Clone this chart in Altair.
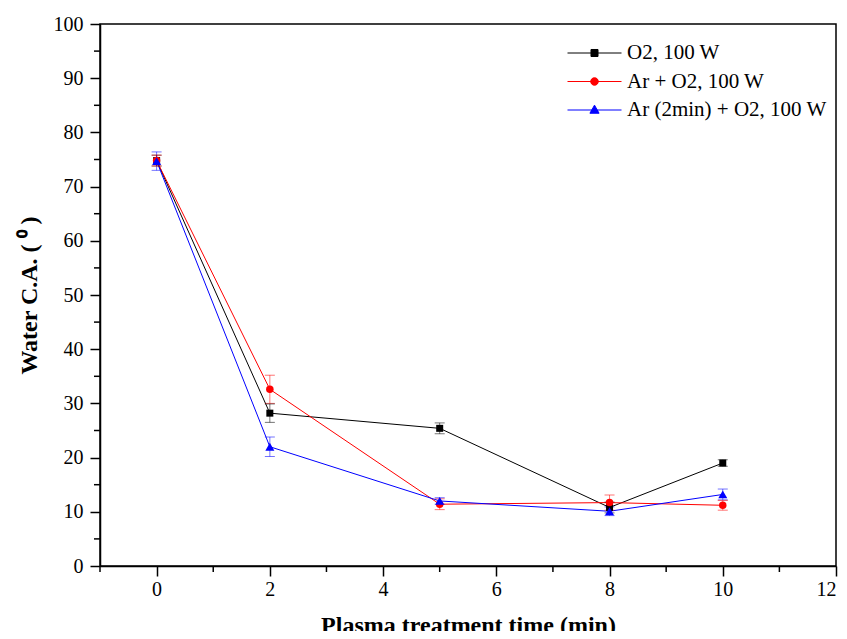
import altair as alt
import pandas as pd

# ---- data ----
times = [0, 2, 5, 8, 10]
series_names = ["O2, 100 W", "Ar + O2, 100 W", "Ar (2min) + O2, 100 W"]
o2 = [74.8, 28.2, 25.4, 10.8, 19.0]
o2_err = [1.0, 1.7, 1.0, 1.0, 0.6]
ar_o2 = [74.8, 32.6, 11.4, 11.7, 11.2]
ar_o2_err = [1.0, 2.6, 1.0, 1.4, 0.9]
ar2_o2 = [74.7, 22.0, 12.0, 10.1, 13.2]
ar2_o2_err = [1.7, 1.8, 0.6, 0.8, 1.0]
colors = ["#000000", "#ff0000", "#0000ff"]
point_shapes = ["square", "circle", "triangle-up"]
point_sizes = [49, 56, 81]
x_ticks = [0, 2, 4, 6, 8, 10, 12]
x_minor = [-1, 1, 3, 5, 7, 9, 11]
y_ticks = [0, 10, 20, 30, 40, 50, 60, 70, 80, 90, 100]
y_minor = [5, 15, 25, 35, 45, 55, 65, 75, 85, 95]

# legend symbols: a line with the marker in its centre
legend_paths = [
    "M-1,0H1M-0.13,-0.13H0.13V0.13H-0.13Z",
    "M-1,0H1M-0.14,0A0.14,0.14,0,1,0,0.14,0A0.14,0.14,0,1,0,-0.14,0Z",
    "M-1,0H1M0,-0.18L0.17,0.12H-0.17Z",
]

rows = []
for name, vals, errs in zip(series_names, [o2, ar_o2, ar2_o2], [o2_err, ar_o2_err, ar2_o2_err]):
    for t, v, e in zip(times, vals, errs):
        rows.append({"time": t, "ca": v, "lo": v - e, "hi": v + e, "series": name})
df = pd.DataFrame(rows)

W, H = 736, 542
FONT = "Liberation Serif"
X_TITLE = "Plasma treatment time (min)"
Y_TITLE = "Water C.A. ( \u2070 )"

x_scale = alt.Scale(domain=[-1, 12], nice=False, zero=False)
y_scale = alt.Scale(domain=[0, 100], nice=False)
# same mapping, listed in reverse so this (legend-less) scale is not merged with the legend scales
color_scale = alt.Scale(domain=series_names[::-1], range=colors[::-1])

x_axis = alt.Axis(values=x_ticks, format="d", labelPadding=3, titlePadding=14)
y_axis = alt.Axis(values=y_ticks, format="d", labelPadding=7, titlePadding=12)


def xenc(field="time"):
    return alt.X(f"{field}:Q", scale=x_scale, axis=x_axis, title=X_TITLE)


def yenc(field="ca"):
    return alt.Y(f"{field}:Q", scale=y_scale, axis=y_axis, title=Y_TITLE)


col = alt.Color("series:N", scale=color_scale, legend=None)
base = alt.Chart(df)

lines = base.mark_line(strokeWidth=1).encode(x=xenc(), y=yenc(), color=col)
err = base.mark_rule(strokeWidth=1, opacity=0.55).encode(
    x=xenc(), y=yenc("lo"), y2="hi:Q", color=col
)
cap_lo = base.mark_tick(orient="horizontal", size=10, thickness=1, opacity=0.55).encode(
    x=xenc(), y=yenc("lo"), color=col
)
cap_hi = base.mark_tick(orient="horizontal", size=10, thickness=1, opacity=0.55).encode(
    x=xenc(), y=yenc("hi"), color=col
)

pts = []
for name, shp, sz in zip(series_names, point_shapes, point_sizes):
    pts.append(
        base.transform_filter(alt.datum.series == name)
        .mark_point(filled=True, opacity=1, shape=shp, size=sz)
        .encode(x=xenc(), y=yenc(), color=col)
    )

minor_x = alt.Chart(pd.DataFrame({"time": x_minor})).mark_rule(
    color="black", strokeWidth=1.5
).encode(x=xenc(), y=alt.value(H), y2=alt.value(H + 6))
minor_y = alt.Chart(pd.DataFrame({"ca": y_minor})).mark_rule(
    color="black", strokeWidth=1.5
).encode(y=yenc(), x=alt.value(0), x2=alt.value(-6))

leg = alt.Legend(
    title=None,
    orient="none",
    legendX=467,
    legendY=15,
    padding=0,
    symbolSize=2916,
    symbolStrokeWidth=1,
    labelFont=FONT,
    labelFontSize=21,
    labelColor="black",
    labelOffset=5,
    labelLimit=0,
    clipHeight=28,
    rowPadding=0.5,
)
# this layer only feeds the legend: its marks sit outside the clipped plot area
legend_layer = base.mark_point(
    filled=True, strokeWidth=1, size=2916, opacity=1, clip=True
).encode(
    x=xenc(),
    y=alt.value(-400),
    fill=alt.Fill("series:N", scale=alt.Scale(domain=series_names, range=colors), legend=leg),
    stroke=alt.Stroke("series:N", scale=alt.Scale(domain=series_names, range=colors), legend=leg),
    shape=alt.Shape("series:N", scale=alt.Scale(domain=series_names, range=legend_paths), legend=leg),
)

chart = (
    alt.layer(lines, err, cap_lo, cap_hi, *pts, minor_x, minor_y, legend_layer)
    .properties(
        width=W,
        height=H,
        autosize=alt.AutoSizeParams(type="none"),
        padding={"left": 92, "top": 16, "right": 3, "bottom": 65},
        background="white",
    )
    .configure_view(stroke="black", strokeWidth=1.5)
    .configure_axis(
        grid=False,
        domainColor="black",
        domainWidth=1.5,
        tickColor="black",
        tickWidth=1.5,
        tickSize=10,
        labelFont=FONT,
        labelFontSize=20,
        labelColor="black",
        titleFont=FONT,
        titleFontSize=24,
        titleFontWeight="bold",
        titleColor="black",
    )
)

chart.save("out.html", embed_options={"renderer": "svg", "actions": False})
